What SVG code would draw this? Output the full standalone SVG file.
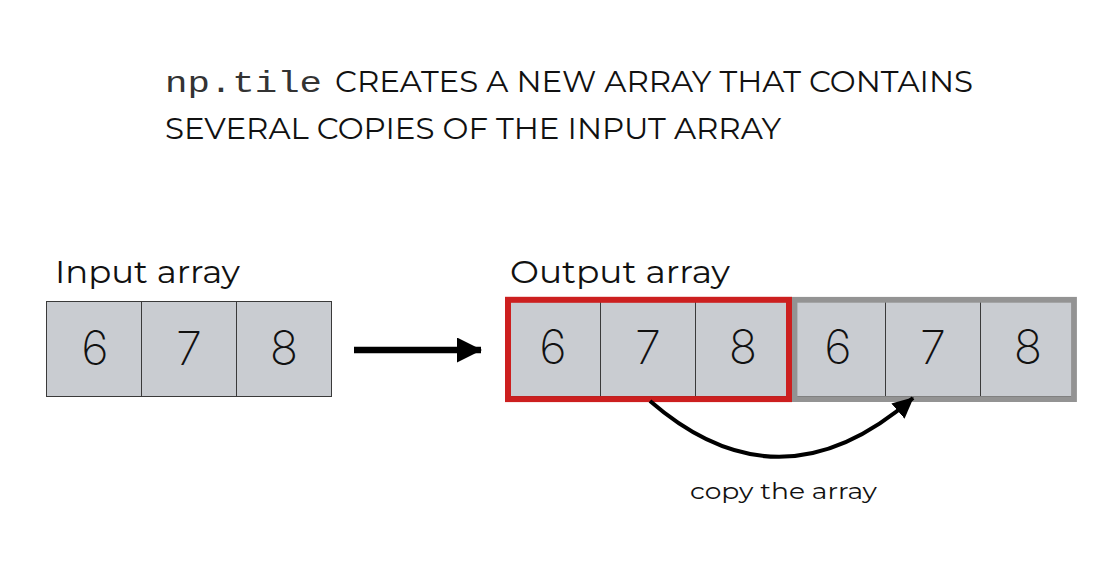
<svg xmlns="http://www.w3.org/2000/svg" width="1120" height="576" viewBox="0 0 1120 576">
<style>
.t{font-family:"Montserrat","Lato","Inter","Liberation Sans",sans-serif;fill:#111}
.mono{font-family:"Liberation Mono","DejaVu Sans Mono",monospace;fill:#333}
.d{font-family:"Inter","Lato","Liberation Sans",sans-serif;font-weight:200;font-size:47px;fill:#111;text-anchor:middle}
.cell{fill:#c9ccd1;stroke:#3a3a3a;stroke-width:1}
</style>
<defs>
<marker id="ah" markerUnits="userSpaceOnUse" markerWidth="26" markerHeight="26" refX="24" refY="12.5" orient="auto" viewBox="0 0 26 26">
<path d="M0,0 L25,12.5 L0,25 Z" fill="#000"/>
</marker>
<marker id="ah2" markerUnits="userSpaceOnUse" markerWidth="22" markerHeight="22" refX="20" refY="10" orient="auto" viewBox="0 0 22 22">
<path d="M0,0 L21,10 L0,20 Z" fill="#000"/>
</marker>
</defs>
<rect width="1120" height="576" fill="#fff"/>
<g id="title">
<text class="mono" x="165" y="92" font-size="30" textLength="157" lengthAdjust="spacingAndGlyphs">np.tile</text>
<text class="t" x="335" y="92" font-size="30" textLength="638" lengthAdjust="spacingAndGlyphs">CREATES A NEW ARRAY THAT CONTAINS</text>
<text class="t" x="165" y="138.5" font-size="30" textLength="616" lengthAdjust="spacingAndGlyphs">SEVERAL COPIES OF THE INPUT ARRAY</text>
</g>
<g id="input-array">
<text class="t" x="55" y="283" font-size="32" textLength="185" lengthAdjust="spacingAndGlyphs">Input array</text>
<rect class="cell" x="46.5" y="301.5" width="95" height="95"/>
<rect class="cell" x="141.5" y="301.5" width="95" height="95"/>
<rect class="cell" x="236.5" y="301.5" width="95" height="95"/>
<text class="d" x="95" y="365">6</text>
<text class="d" x="189" y="365">7</text>
<text class="d" x="284" y="365">8</text>
</g>
<g id="output-array">
<text class="t" x="510" y="283" font-size="32" textLength="220" lengthAdjust="spacingAndGlyphs">Output array</text>
<rect class="cell" x="505.5" y="301.5" width="95" height="95"/>
<rect class="cell" x="600.5" y="301.5" width="95" height="95"/>
<rect class="cell" x="695.5" y="301.5" width="95" height="95"/>
<rect class="cell" x="790.5" y="301.5" width="95" height="95"/>
<rect class="cell" x="885.5" y="301.5" width="95" height="95"/>
<rect class="cell" x="980.5" y="301.5" width="95" height="95"/>
<rect id="copy-outline" x="794.5" y="299.8" width="279.5" height="99.3" fill="none" stroke="#939393" stroke-width="5.8"/>
<rect id="original-outline" x="508" y="299.8" width="281" height="99.3" fill="none" stroke="#cc1f1f" stroke-width="6"/>
<text class="d" x="553" y="364">6</text>
<text class="d" x="648" y="364">7</text>
<text class="d" x="743" y="364">8</text>
<text class="d" x="838" y="364">6</text>
<text class="d" x="933" y="364">7</text>
<text class="d" x="1028" y="364">8</text>
</g>
<g id="connectors">
<path d="M354,350 H481" stroke="#000" stroke-width="6.5" fill="none" marker-end="url(#ah)"/>
<path d="M650,401 Q780,514 913,398" stroke="#000" stroke-width="4" fill="none" marker-end="url(#ah2)"/>
</g>
<g id="label">
<text class="t" x="690" y="498.5" font-size="22" textLength="187" lengthAdjust="spacingAndGlyphs">copy the array</text>
</g>
</svg>
